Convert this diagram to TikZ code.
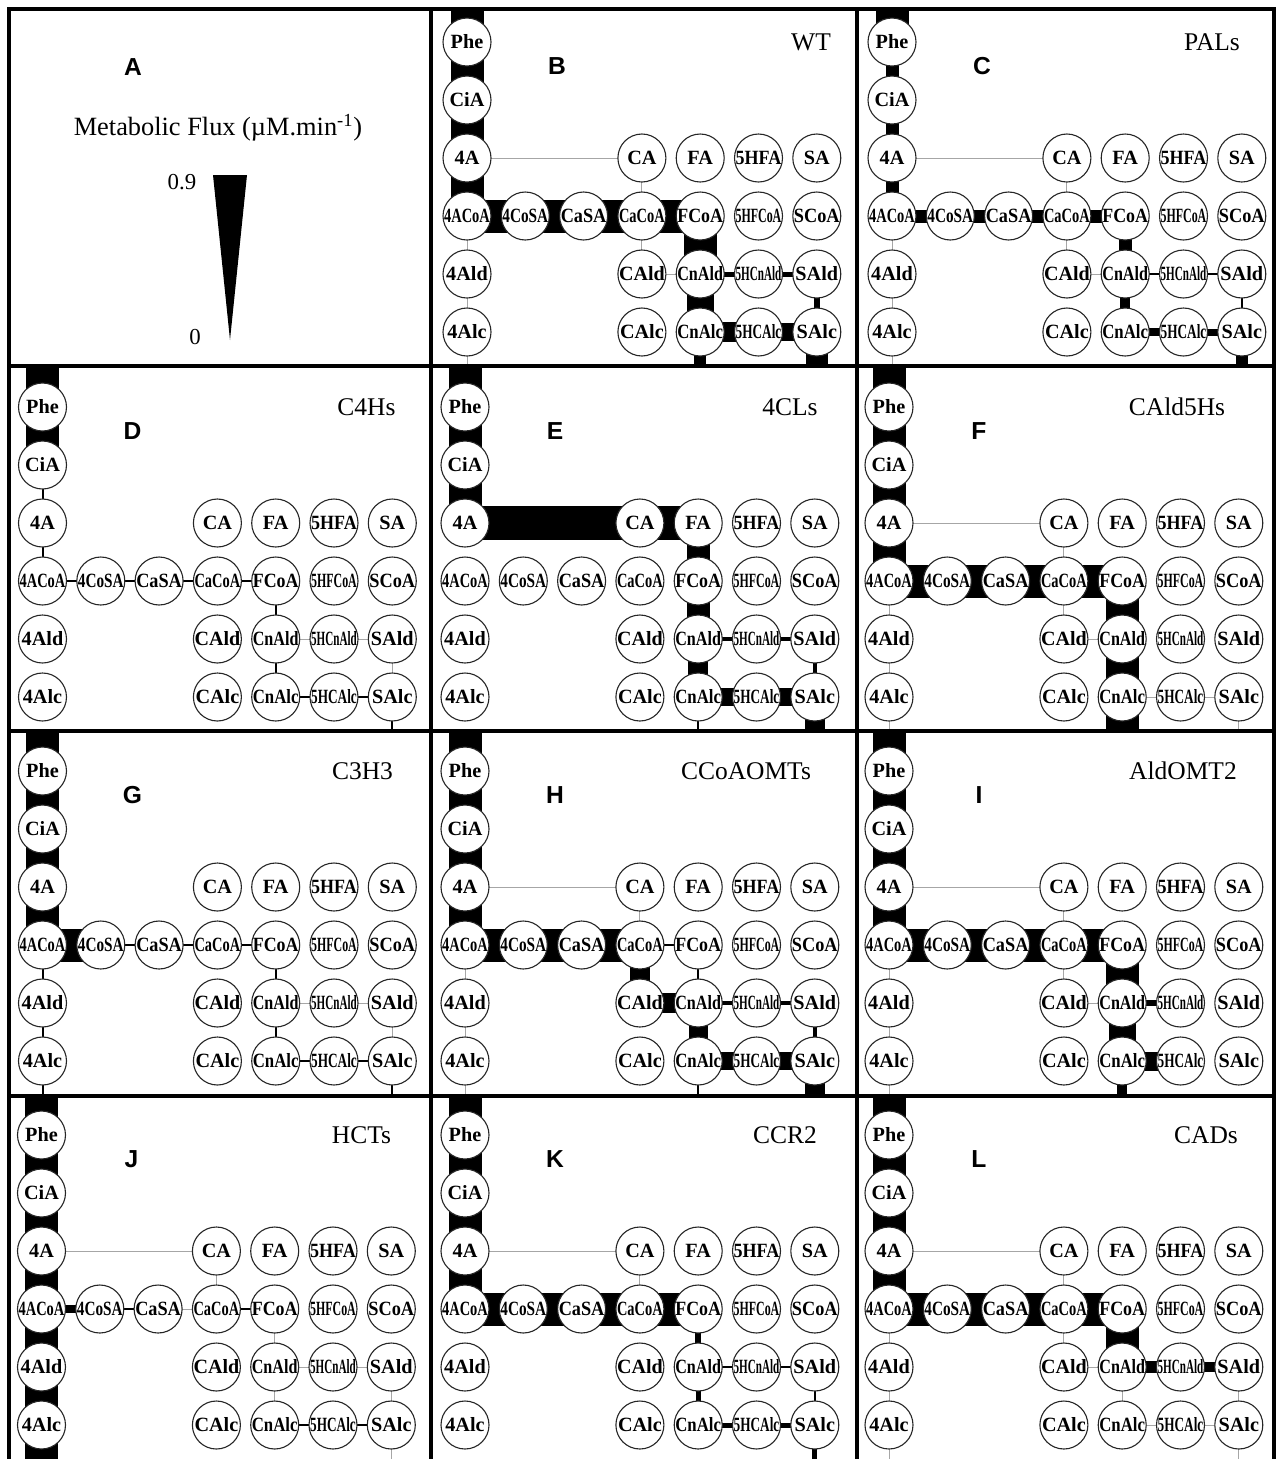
\documentclass[tikz,border=0pt]{standalone}
\usepackage{fontspec}
\setmainfont{Liberation Serif}
\setsansfont{Liberation Sans}
\usepackage{graphicx}
\usetikzlibrary{backgrounds}

% squeeze long metabolite names into the circle
\newlength{\lblwd}
\newcommand{\fitlabel}[1]{\settowidth{\lblwd}{#1}%
  \ifdim\lblwd>26pt\relax\resizebox{26pt}{\height}{#1}\else#1\fi}

\tikzset{
  met/.style={circle,draw=black!85,line width=0.22mm,fill=white,
    minimum size=9.6mm,inner sep=0pt,font=\fontsize{11.5}{12}\selectfont\bfseries},
  flux/.code={\ifdim #1pt=0pt\relax\tikzset{draw=black!35,line width=0.2mm}%
    \else\tikzset{draw=black,line width={#1*0.2mm}}\fi},
  paneltag/.style={font=\fontsize{14}{16}\selectfont\sffamily\bfseries},
  mutant/.style={font=\fontsize{14.5}{16}\selectfont},
  frame/.style={line width=0.9mm},
}

% #1 panel, #2,#3 Phe centre, #4 top border, #5 bottom border,
% #6 line name, #7 its x offset, #8 fluxes from/to/width (0 = faint)
\newcommand{\drawpanel}[8]{%
  \foreach \nm/\cx/\cy in {Phe/0/0,CiA/0/1,4A/0/2,CA/3/2,FA/4/2,5HFA/5/2,SA/6/2,
      4ACoA/0/3,4CoSA/1/3,CaSA/2/3,CaCoA/3/3,FCoA/4/3,5HFCoA/5/3,SCoA/6/3,
      4Ald/0/4,CAld/3/4,CnAld/4/4,5HCnAld/5/4,SAld/6/4,
      4Alc/0/5,CAlc/3/5,CnAlc/4/5,5HCAlc/5/5,SAlc/6/5}
    \node[met] (#1-\nm) at ({#2+58.3*\cx},{#3+58*\cy}) {\fitlabel{\nm}};
  \coordinate (#1-top) at (#2,#4);
  \coordinate (#1-out4) at (#2,#5);
  \coordinate (#1-outCn) at ({#2+4*58.3},#5);
  \coordinate (#1-outS) at ({#2+6*58.3},#5);
  \node[paneltag] (#1-tag) at ({#2+90},{#3+24}) {#1};
  \node[mutant] (#1-name) at ({#2+#7},#3) {#6};
  \begin{scope}[on background layer]
    \foreach \a/\b/\w in {#8}
      \draw[flux=\w] (#1-\a.center) -- (#1-\b.center);
  \end{scope}
}

\begin{document}
\begin{tikzpicture}[x=0.2mm,y=-0.2mm]
  \useasboundingbox (0,0) rectangle (1277,1459);
  \begin{scope}[on background layer]
    \fill[white] (0,0) rectangle (1277,1459);
  \end{scope}

  % legend
  \node[paneltag] (A-tag) at (133,67) {A};
  \node[font=\fontsize{15}{17}\selectfont] (fluxlbl) at (218,128) {Metabolic Flux (µM.min\textsuperscript{-1})};
  \node[font=\fontsize{13}{15}\selectfont] (maxlbl) at (182,182) {0.9};
  \node[font=\fontsize{13}{15}\selectfont] (minlbl) at (195,337) {0};
  \fill (213,175) -- (247,175) -- (230,340) -- cycle;

  \drawpanel{B}{467}{42}{9}{366}{WT}{344}{top/Phe/33,Phe/CiA/33,CiA/4A/33,4A/4ACoA/33,
    4A/CA/0,4ACoA/4Ald/0,4Ald/4Alc/0,4Alc/out4/0,CA/CaCoA/0,CaCoA/CAld/0,CAld/CnAld/0,
    4ACoA/4CoSA/33,4CoSA/CaSA/33,CaSA/CaCoA/33,CaCoA/FCoA/33,FCoA/CnAld/33,
    CnAld/5HCnAld/5,5HCnAld/SAld/5,SAld/SAlc/6,CnAld/CnAlc/27,CnAlc/5HCAlc/20,
    5HCAlc/SAlc/18,CnAlc/outCn/12,SAlc/outS/22}
  \drawpanel{C}{892}{42}{9}{366}{PALs}{320}{top/Phe/33,Phe/CiA/13,CiA/4A/13,4A/4ACoA/13,
    4A/CA/0,4ACoA/4Ald/0,4Ald/4Alc/0,4Alc/out4/0,CA/CaCoA/0,CaCoA/CAld/0,CAld/CnAld/0,
    4ACoA/4CoSA/13,4CoSA/CaSA/13,CaSA/CaCoA/13,CaCoA/FCoA/13,FCoA/CnAld/13,
    CnAld/5HCnAld/2,5HCnAld/SAld/2,SAld/SAlc/2,CnAld/CnAlc/10,CnAlc/5HCAlc/8,
    5HCAlc/SAlc/7,SAlc/outS/12}
  \drawpanel{D}{42.5}{407}{366}{731}{C4Hs}{324}{top/Phe/33,Phe/CiA/33,CiA/4A/2,4A/4ACoA/2,
    4ACoA/4CoSA/2,4CoSA/CaSA/2,CaSA/CaCoA/2,CaCoA/FCoA/2,FCoA/CnAld/2,CnAld/CnAlc/2,
    CnAld/5HCnAld/0,5HCnAld/SAld/0,SAld/SAlc/0,CnAlc/5HCAlc/1.5,5HCAlc/SAlc/1.5,SAlc/outS/2}
  \drawpanel{E}{465}{407}{366}{731}{4CLs}{325}{top/Phe/33,Phe/CiA/33,CiA/4A/33,4A/CA/34,
    CA/FA/34,FA/FCoA/23,FCoA/CnAld/23,CnAld/CnAlc/20,CnAld/5HCnAld/4,5HCnAld/SAld/4,
    SAld/SAlc/4,CnAlc/5HCAlc/18,5HCAlc/SAlc/18,CnAlc/outCn/2,SAlc/outS/20}
  \drawpanel{F}{889}{407}{366}{731}{CAld5Hs}{288}{top/Phe/33,Phe/CiA/33,CiA/4A/33,4A/4ACoA/33,
    4A/CA/0,4ACoA/4Ald/0,4Ald/4Alc/0,4Alc/out4/0,CA/CaCoA/0,CaCoA/CAld/0,CAld/CnAld/0,
    CnAlc/5HCAlc/0,5HCAlc/SAlc/0,SAlc/outS/0,
    4ACoA/4CoSA/33,4CoSA/CaSA/33,CaSA/CaCoA/33,CaCoA/FCoA/33,FCoA/CnAld/33,
    CnAld/CnAlc/33,CnAlc/outCn/33}
  \drawpanel{G}{42.5}{771}{731}{1096}{C3H3}{320}{top/Phe/33,Phe/CiA/33,CiA/4A/33,4A/4ACoA/33,
    4ACoA/4CoSA/33,4CoSA/CaSA/2,CaSA/CaCoA/2,CaCoA/FCoA/2,4ACoA/4Ald/2,4Ald/4Alc/2,
    4Alc/out4/2,FCoA/CnAld/2,CnAld/CnAlc/2,CnAld/5HCnAld/0,5HCnAld/SAld/0,SAld/SAlc/0,
    CnAlc/5HCAlc/1.5,5HCAlc/SAlc/1.5,SAlc/outS/2}
  \drawpanel{H}{465}{771}{731}{1096}{CCoAOMTs}{281}{top/Phe/33,Phe/CiA/33,CiA/4A/33,4A/4ACoA/33,
    4A/CA/0,4ACoA/4Ald/0,4Ald/4Alc/0,4Alc/out4/0,CA/CaCoA/0,
    4ACoA/4CoSA/33,4CoSA/CaSA/33,CaSA/CaCoA/33,CaCoA/FCoA/2,CaCoA/CAld/20,CAld/CnAld/20,
    FCoA/CnAld/2,CnAld/5HCnAld/4,5HCnAld/SAld/4,SAld/SAlc/4,CnAld/CnAlc/19,
    CnAlc/5HCAlc/18,5HCAlc/SAlc/18,CnAlc/outCn/2,SAlc/outS/20}
  \drawpanel{I}{889}{771}{731}{1096}{AldOMT2}{294}{top/Phe/33,Phe/CiA/33,CiA/4A/33,4A/4ACoA/33,
    4A/CA/0,4ACoA/4Ald/0,4Ald/4Alc/0,4Alc/out4/0,CA/CaCoA/0,CaCoA/CAld/0,CAld/CnAld/0,
    4ACoA/4CoSA/33,4CoSA/CaSA/33,CaSA/CaCoA/33,CaCoA/FCoA/33,FCoA/CnAld/33,
    CnAld/5HCnAld/6,CnAld/CnAlc/27,CnAlc/5HCAlc/19,CnAlc/outCn/10}
  \drawpanel{J}{41.5}{1135}{1096}{1459}{HCTs}{320}{top/Phe/33,Phe/CiA/33,CiA/4A/33,4A/4ACoA/33,
    4ACoA/4Ald/33,4Ald/4Alc/33,4Alc/out4/33,4A/CA/0,CaSA/CaCoA/0,CA/CaCoA/0,FCoA/CnAld/0,
    CnAld/5HCnAld/0,5HCnAld/SAld/0,CnAld/CnAlc/0,SAld/SAlc/0,SAlc/outS/0,
    4ACoA/4CoSA/8,4CoSA/CaSA/2,CaCoA/FCoA/1.5,CnAlc/5HCAlc/1.5,5HCAlc/SAlc/1.5}
  \drawpanel{K}{465}{1135}{1096}{1459}{CCR2}{320}{top/Phe/33,Phe/CiA/33,CiA/4A/33,4A/4ACoA/33,
    4A/CA/0,CA/CaCoA/0,
    4ACoA/4CoSA/33,4CoSA/CaSA/33,CaSA/CaCoA/33,CaCoA/FCoA/33,FCoA/CnAld/6,
    CnAld/5HCnAld/2,5HCnAld/SAld/2,SAld/SAlc/1.5,CnAld/CnAlc/5,CnAlc/5HCAlc/5,
    5HCAlc/SAlc/5,SAlc/outS/5}
  \drawpanel{L}{889}{1135}{1096}{1459}{CADs}{317}{top/Phe/33,Phe/CiA/33,CiA/4A/33,4A/4ACoA/33,
    4A/CA/0,4ACoA/4Ald/0,4Ald/4Alc/0,4Alc/out4/0,CA/CaCoA/0,CaCoA/CAld/0,CAld/CnAld/0,
    SAld/SAlc/0,CnAld/CnAlc/0,CnAlc/5HCAlc/0,5HCAlc/SAlc/0,SAlc/outS/0,
    4ACoA/4CoSA/33,4CoSA/CaSA/33,CaSA/CaCoA/33,CaCoA/FCoA/33,FCoA/CnAld/33,
    CnAld/5HCnAld/12,5HCnAld/SAld/10}

  % panel frames
  \draw[frame] (9,1470) -- (9,9) -- (1274,9) -- (1274,1470);
  \foreach \fx in {431,857}
    \draw[frame] (\fx,9) -- (\fx,1470);
  \foreach \fy in {366,731,1096}
    \draw[frame] (9,\fy) -- (1274,\fy);
\end{tikzpicture}
\end{document}
